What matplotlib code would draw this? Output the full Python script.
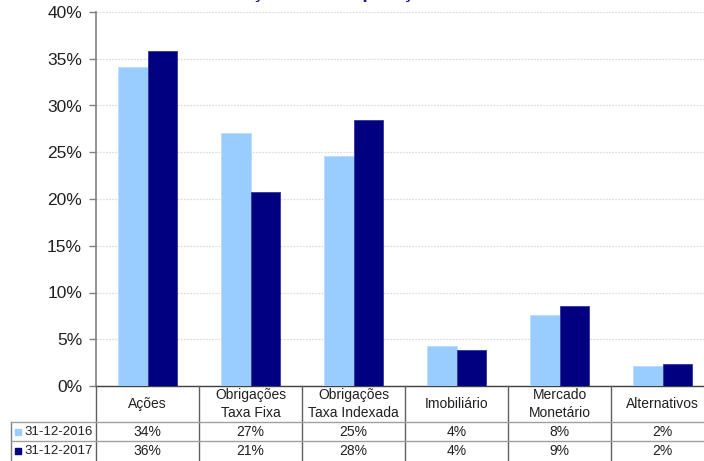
import numpy as np
import matplotlib
matplotlib.use("Agg")
import matplotlib.pyplot as plt
from matplotlib.ticker import PercentFormatter

plt.rcParams['font.family'] = ['Liberation Sans', 'DejaVu Sans']

# Données (en %)
categories = ['Ações', 'Obrigações\nTaxa Fixa', 'Obrigações\nTaxa Indexada',
              'Imobiliário', 'Mercado\nMonetário', 'Alternativos']
series_labels = ['31-12-2016', '31-12-2017']
valeurs_2016 = [34.15, 27.1, 24.6, 4.25, 7.6, 2.15]
valeurs_2017 = [35.8, 20.7, 28.4, 3.9, 8.6, 2.35]
titre = 'Evolução da Composição da Carteira'

couleurs = ['#99CCFF', '#000080']
W, H = 704, 461

fig = plt.figure(figsize=(W / 100, H / 100), dpi=100)

# Axe principal des barres
ax = fig.add_axes([96 / W, 75 / H, 618 / W, 374 / H])
x = np.arange(len(categories))
largeur = 0.285
ax.bar(x - largeur / 2, valeurs_2016, largeur, color=couleurs[0],
       edgecolor='#b8dcff', linewidth=0.6, zorder=3)
ax.bar(x + largeur / 2, valeurs_2017, largeur, color=couleurs[1],
       edgecolor='#3333a0', linewidth=0.6, zorder=3)

ax.set_xlim(-0.5, len(categories) - 0.5)
ax.set_ylim(0, 40)
ax.set_yticks(np.arange(0, 41, 5))
ax.yaxis.set_major_formatter(PercentFormatter(decimals=0))
ax.set_xticks([])
ax.tick_params(axis='y', length=5, width=1, color='#808080', pad=5,
               labelsize=12.5, labelcolor='#202020')

# Grille très légère
ax.yaxis.grid(True, color='#dedede', linestyle=(0, (1.5, 1)), linewidth=0.9)
ax.set_axisbelow(True)
ax.spines['top'].set_visible(False)
ax.spines['right'].set_visible(False)
ax.spines['left'].set_color('#808080')
ax.spines['left'].set_linewidth(1.2)
ax.spines['bottom'].set_color('#404040')
ax.spines['bottom'].set_linewidth(1.0)

# Titre (coupé en haut de l'image, comme sur l'original)
fig.text(199 / W, 1 + 1.5 / H, titre, ha='left', va='baseline',
         fontsize=14, fontweight='bold', color='#1a1a8c')

# Tableau de données sous le graphique
axt = fig.add_axes([96 / W, 0, 618 / W, 75 / H])
axt.set_xlim(-0.5, len(categories) - 0.5)
axt.set_ylim(0, 75)
axt.axis('off')

x_gauche = -0.5 - 85 / 103
y_l1, y_l2 = 39.3, 19.7
for k in range(len(categories) + 1):
    axt.plot([k - 0.5, k - 0.5], [0, 75], color='#606060', lw=1.0, clip_on=False)
axt.plot([x_gauche, x_gauche], [0, y_l1], color='#808080', lw=1.0, clip_on=False)
for yl in (y_l1, y_l2):
    axt.plot([x_gauche, len(categories) - 0.5], [yl, yl], color='#a0a0a0',
             lw=1.0, clip_on=False)

for i, cat in enumerate(categories):
    axt.text(i, 57.1, cat, ha='center', va='center', fontsize=10,
             color='#202020', linespacing=1.3)

lignes = [valeurs_2016, valeurs_2017]
y_rows = [29.5, 10.0]
for serie, vals, coul, yr in zip(series_labels, lignes, couleurs, y_rows):
    axt.plot([-0.5 - 78 / 103], [yr], marker='s', markersize=4.5, color=coul,
             linestyle='none', clip_on=False)
    axt.text(-0.5 - 72 / 103, yr, serie, ha='left', va='center',
             fontsize=9.5, color='#202020', clip_on=False)
    for i, v in enumerate(vals):
        axt.text(i, yr, f'{v:.0f}%', ha='center', va='center',
                 fontsize=10, color='#202020')

fig.savefig('out.png', dpi=100)
